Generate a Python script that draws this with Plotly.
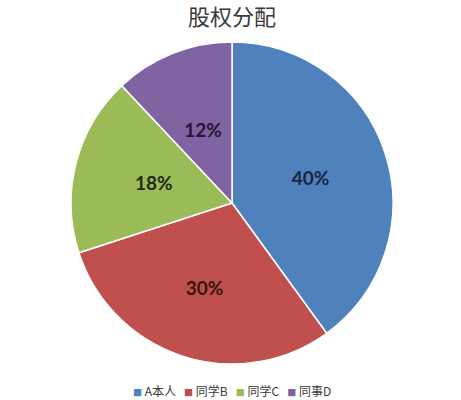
import plotly.graph_objects as go

labels = ["A本人", "同学B", "同学C", "同事D"]
values = [40, 30, 18, 12]
colors = ["#4F81BD", "#C0504D", "#9BBB59", "#8064A2"]
text_colors = ["#17263f", "#3a1414", "#1f2b0e", "#241634"]

# pie geometry in paper coords (centre / radius)
cx, cy = 0.5033, 0.4925
rx, ry = 0.3492, 0.4025


def dom(s):
    return dict(x=[cx - s * rx, cx + s * rx], y=[cy - s * ry, cy + s * ry])


tpl = "<b>%{percent:.0%}</b>"
label_font = dict(family="Lato, Open Sans", size=19, color=text_colors)

fig = go.Figure()
fig.add_trace(go.Pie(
    labels=labels, values=values, sort=False, direction="clockwise", rotation=0,
    marker=dict(colors=colors, line=dict(color="white", width=1.5)),
    texttemplate=[tpl, tpl, "", ""],
    textposition="inside", insidetextorientation="horizontal",
    textfont=label_font, domain=dom(1.0),
    hoverinfo="label+percent", showlegend=False,
))
# smaller transparent pies only to pull the small-slice labels toward the centre
for s, shown in [(0.77, [False, False, True, False]), (0.67, [False, False, False, True])]:
    fig.add_trace(go.Pie(
        labels=labels, values=values, sort=False, direction="clockwise", rotation=0,
        marker=dict(colors=["rgba(0,0,0,0)"] * len(values), line=dict(width=0)),
        texttemplate=[tpl if f else "" for f in shown],
        textposition="inside", insidetextorientation="horizontal",
        textfont=label_font, domain=dom(s),
        hoverinfo="skip", showlegend=False,
    ))

legend_text = "&nbsp;&nbsp;&nbsp;".join(
    f'<span style="color:{c};font-size:9px">■</span> {l}' for l, c in zip(labels, colors))

fig.update_layout(
    width=461, height=400,
    margin=dict(l=0, r=0, t=0, b=0),
    paper_bgcolor="white",
    title=dict(text="股权分配", x=0.503, xanchor="center", y=0.957, yanchor="middle",
               font=dict(family="Noto Sans CJK SC", size=22, color="#3a3a3a")),
    showlegend=False,
    annotations=[dict(text=legend_text, x=0.504, y=0.025, xref="paper", yref="paper",
                      xanchor="center", yanchor="middle", showarrow=False,
                      font=dict(family="Noto Sans CJK SC", size=12, color="#3a3a3a"))],
)

# the page body has a default 8px margin; remove it so the figure sits at 0,0
fig.write_html("out.html", config={"displayModeBar": False},
               post_script="document.body.style.margin='0';")
